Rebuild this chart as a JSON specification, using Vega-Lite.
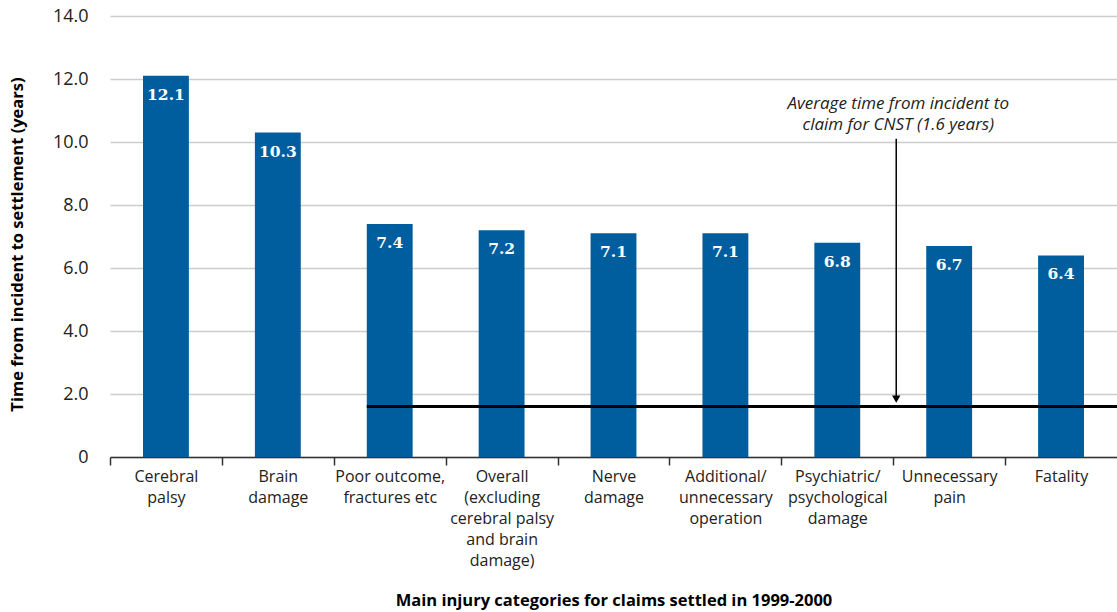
{
  "$schema": "https://vega.github.io/schema/vega-lite/v6.json",
  "width": 1007,
  "height": 441,
  "autosize": "none",
  "padding": {"left": 110, "top": 16, "right": 0, "bottom": 155},
  "background": "white",
  "config": {
    "font": "Open Sans",
    "view": {"stroke": null}
  },
  "layer": [
    {
      "data": {
        "values": [
          {"category": "Cerebral|palsy", "years": 12.1},
          {"category": "Brain|damage", "years": 10.3},
          {"category": "Poor outcome,|fractures etc", "years": 7.4},
          {"category": "Overall|(excluding|cerebral palsy|and brain|damage)", "years": 7.2},
          {"category": "Nerve|damage", "years": 7.1},
          {"category": "Additional/|unnecessary|operation", "years": 7.1},
          {"category": "Psychiatric/|psychological|damage", "years": 6.8},
          {"category": "Unnecessary|pain", "years": 6.7},
          {"category": "Fatality", "years": 6.4}
        ]
      },
      "encoding": {
        "x": {
          "field": "category",
          "type": "nominal",
          "sort": null,
          "scale": {
            "domain": ["Cerebral|palsy", "Brain|damage", "Poor outcome,|fractures etc", "Overall|(excluding|cerebral palsy|and brain|damage)", "Nerve|damage", "Additional/|unnecessary|operation", "Psychiatric/|psychological|damage", "Unnecessary|pain", "Fatality"],
            "paddingInner": 0.59,
            "paddingOuter": 0.295
          },
          "axis": {
            "title": "Main injury categories for claims settled in 1999-2000",
            "titleFont": "Open Sans",
            "titleFontSize": 16.5,
            "titleFontWeight": "bold",
            "titleColor": "#000000",
            "titleY": 143,
            "titleBaseline": "middle",
            "labelExpr": "split(datum.label, '|')",
            "labelAngle": 0,
            "labelFont": "Open Sans",
            "labelFontSize": 16,
            "labelLineHeight": 21,
            "labelColor": "#222222",
            "labelPadding": 3,
            "labelBaseline": "top",
            "labelOffset": 56,
            "ticks": true,
            "tickOffset": -56,
            "tickSize": 8,
            "tickColor": "#333333",
            "tickWidth": 1.5,
            "domainColor": "#333333",
            "domainWidth": 1.5,
            "grid": false
          }
        }
      },
      "layer": [
        {
          "mark": {"type": "bar", "color": "#005E9E"},
          "encoding": {
            "y": {
              "field": "years",
              "type": "quantitative",
              "scale": {"domain": [0, 14]},
              "axis": {
                "title": "Time from incident to settlement (years)",
                "titleFont": "Open Sans",
                "titleFontSize": 16.5,
                "titleFontWeight": "bold",
                "titleColor": "#000000",
                "titleX": -93,
                "titleY": 228,
                "titleAngle": -90,
                "titleBaseline": "middle",
                "titleAlign": "center",
                "values": [0, 2, 4, 6, 8, 10, 12, 14],
                "labelExpr": "datum.value == 0 ? '0' : format(datum.value, '.1f')",
                "labelFont": "Open Sans",
                "labelFontSize": 18,
                "labelColor": "#222222",
                "labelPadding": 22,
                "ticks": false,
                "domain": false,
                "grid": true,
                "gridColor": "#cccccc",
                "gridWidth": 1.5
              }
            }
          }
        },
        {
          "mark": {"type": "text", "color": "white", "font": "DejaVu Serif", "fontWeight": "bold", "fontSize": 15.5, "baseline": "top", "dy": 12},
          "encoding": {
            "y": {"field": "years", "type": "quantitative"},
            "text": {"field": "years", "type": "quantitative", "format": ".1f"}
          }
        }
      ]
    },
    {
      "data": {"values": [{"from": "Poor outcome,|fractures etc", "avg": 1.6}]},
      "mark": {"type": "rule", "color": "#000000", "strokeWidth": 3},
      "encoding": {
        "x": {"field": "from", "type": "nominal", "bandPosition": 0},
        "x2": {"value": 1007},
        "y": {"field": "avg", "type": "quantitative"}
      }
    },
    {
      "data": {"values": [{"at": "Unnecessary|pain", "top": 10.1, "bottom": 1.9}]},
      "mark": {"type": "rule", "color": "#000000", "strokeWidth": 1.5, "xOffset": -30},
      "encoding": {
        "x": {"field": "at", "type": "nominal", "bandPosition": 0},
        "y": {"field": "top", "type": "quantitative"},
        "y2": {"field": "bottom"}
      }
    },
    {
      "data": {"values": [{"at": "Unnecessary|pain", "tip": 1.84}]},
      "mark": {"type": "point", "shape": "triangle-down", "filled": true, "color": "#000000", "size": 70, "opacity": 1, "xOffset": -30},
      "encoding": {
        "x": {"field": "at", "type": "nominal", "bandPosition": 0},
        "y": {"field": "tip", "type": "quantitative"}
      }
    },
    {
      "data": {"values": [{"at": "Unnecessary|pain", "pos": 11.2, "note": ["Average time from incident to", "claim for CNST (1.6 years)"]}]},
      "mark": {"type": "text", "font": "Open Sans", "fontStyle": "italic", "fontSize": 17, "lineHeight": 21, "align": "center", "baseline": "middle", "color": "#222222", "xOffset": -28},
      "encoding": {
        "x": {"field": "at", "type": "nominal", "bandPosition": 0},
        "y": {"field": "pos", "type": "quantitative"},
        "text": {"field": "note"}
      }
    }
  ]
}
